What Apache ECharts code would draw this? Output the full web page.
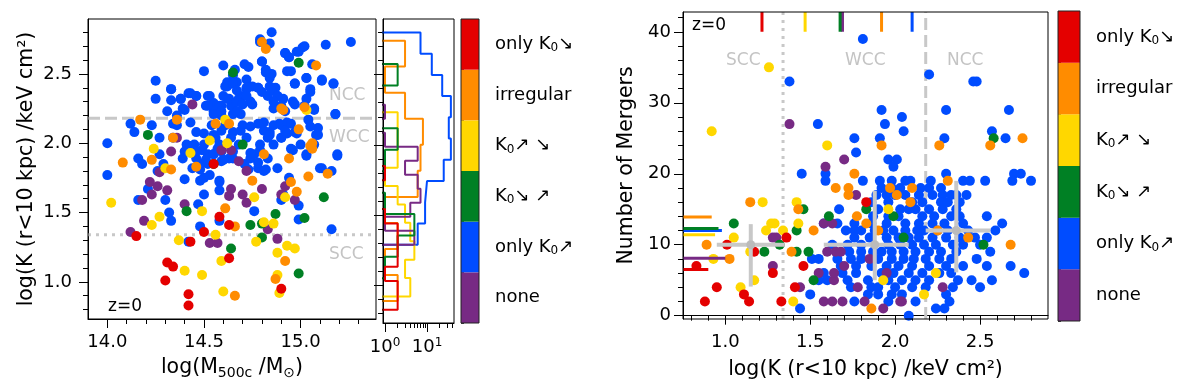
<!DOCTYPE html>
<html>
<head>
<meta charset="utf-8">
<script src="https://cdn.jsdelivr.net/npm/echarts@6/dist/echarts.min.js"></script>
<style>
  html, body { margin: 0; background: #fff; }
  #chart { width: 1200px; height: 385px; }
</style>
</head>
<body>
<div id="chart"></div>
<script>
// categories, bottom to top of the colour bar
const catLabels = ['none', 'only K₀↗', 'K₀↘ ↗', 'K₀↗ ↘', 'irregular', 'only K₀↘']
const catColors = ['#772a84', '#004cff', '#008024', '#ffd700', '#ff8c00', '#e40000']
const cbFill = [1, 1, 1, 1, 1, 1]

// left panel: [log M500c, log K]
const leftUp = [
  [14.00, 2.00], [14.00, 1.77], [14.12, 2.14], [14.14, 2.08], [14.16, 1.89], [14.16, 1.59], [14.18, 1.85], [14.21, 1.67],
  [14.23, 2.13], [14.25, 2.32], [14.25, 2.45], [14.27, 1.92], [14.27, 2.04], [14.29, 1.85], [14.30, 1.59], [14.31, 2.23],
  [14.32, 1.50], [14.33, 2.39], [14.33, 2.31], [14.33, 1.44], [14.34, 2.04], [14.36, 2.13], [14.38, 2.32], [14.39, 2.25],
  [14.40, 1.74], [14.40, 1.94], [14.41, 1.99], [14.42, 2.36], [14.43, 2.15], [14.44, 1.82], [14.45, 1.99], [14.46, 2.34],
  [14.46, 1.89], [14.48, 1.73], [14.48, 1.40], [14.50, 2.52], [14.50, 1.99], [14.50, 1.63], [14.51, 2.27], [14.52, 1.92],
  [14.53, 2.34], [14.53, 1.77], [14.54, 2.13], [14.55, 2.23], [14.56, 2.04], [14.57, 1.96], [14.58, 1.72], [14.58, 1.66],
  [14.59, 2.27], [14.59, 1.87], [14.60, 2.56], [14.61, 2.41], [14.61, 2.13], [14.62, 2.32], [14.63, 1.89], [14.64, 2.27],
  [14.65, 2.08], [14.65, 2.49], [14.66, 2.53], [14.67, 2.44], [14.68, 2.32], [14.69, 2.21], [14.70, 2.13], [14.71, 2.57],
  [14.72, 2.39], [14.72, 2.04], [14.73, 2.55], [14.74, 1.89], [14.74, 2.30], [14.76, 1.51], [14.78, 2.40], [14.79, 2.73],
  [14.79, 1.99], [14.80, 2.59], [14.81, 2.15], [14.82, 2.53], [14.83, 1.89], [14.83, 2.34], [14.84, 2.08], [14.84, 2.72],
  [14.85, 2.80], [14.85, 2.50], [14.86, 2.25], [14.86, 1.99], [14.87, 2.40], [14.88, 2.34], [14.89, 2.14], [14.90, 2.04],
  [14.91, 1.63], [14.91, 2.32], [14.92, 2.23], [14.92, 2.65], [14.93, 2.07], [14.93, 2.52], [14.94, 2.62], [14.94, 1.75],
  [14.95, 1.96], [14.96, 2.30], [14.97, 2.43], [14.97, 2.08], [14.98, 2.66], [14.99, 1.45], [14.99, 1.55], [15.00, 1.99],
  [15.01, 2.69], [15.02, 2.27], [15.03, 2.47], [15.03, 1.92], [15.04, 2.17], [15.05, 2.39], [15.06, 2.57], [15.07, 2.25],
  [15.08, 2.06], [15.09, 2.11], [15.11, 1.82], [15.11, 2.46], [15.13, 2.71], [15.16, 1.38], [15.17, 2.43], [15.18, 2.21],
  [15.19, 1.91], [15.26, 2.73], [14.46, 2.08], [14.49, 1.95], [14.52, 1.85], [14.55, 1.92], [14.58, 1.99], [14.64, 2.04],
  [14.65, 1.94], [14.68, 1.99], [14.71, 1.85], [14.76, 1.92], [14.78, 1.82], [14.81, 1.80], [14.83, 2.04], [14.86, 2.13],
  [14.90, 2.13], [14.93, 2.15], [14.65, 2.27], [14.69, 2.34], [14.72, 2.46], [14.75, 2.41], [14.55, 2.29], [14.59, 2.20],
  [14.62, 2.44], [14.47, 1.56], [14.50, 1.75], [14.39, 1.89], [14.26, 1.80], [14.48, 1.85], [14.42, 1.29], [14.58, 1.44],
  [14.88, 1.82], [14.90, 1.59],
  [14.62, 2.41], [14.65, 2.43], [14.67, 2.38], [14.72, 2.40], [14.72, 2.34], [14.60, 2.34], [14.63, 2.32], [14.67, 2.30],
  [14.70, 2.28], [14.75, 2.28], [14.78, 2.40], [14.80, 2.37], [14.84, 2.41], [14.85, 2.38], [14.88, 2.34], [14.86, 2.30],
  [14.90, 2.27], [14.82, 2.51], [14.84, 2.47], [14.80, 2.59], [14.92, 2.65], [14.94, 2.62], [14.99, 2.66], [15.02, 2.70],
  [14.95, 2.52], [15.03, 2.47], [14.97, 2.43], [15.05, 2.37], [15.03, 2.32], [15.07, 2.24], [14.97, 2.28], [15.11, 2.45],
  [15.17, 2.43], [15.18, 2.21], [14.79, 2.75], [14.33, 2.39], [14.38, 2.32], [14.43, 2.36], [14.46, 2.34], [14.52, 2.34],
  [14.52, 2.27], [14.58, 2.27], [14.55, 2.21], [14.59, 2.23], [14.65, 2.21], [14.67, 2.23], [14.40, 2.24], [14.36, 2.20],
  [14.34, 2.14], [14.50, 2.07], [14.55, 2.06], [14.59, 2.09], [14.69, 2.09], [14.74, 2.12], [14.78, 2.14], [14.81, 2.09],
  [14.84, 2.06], [14.90, 2.04], [14.92, 2.09], [14.95, 2.14], [14.98, 2.07], [15.05, 2.12], [15.09, 2.06], [15.07, 1.99],
  [15.03, 1.91], [14.96, 1.95], [15.19, 1.92], [15.10, 1.82], [15.16, 1.80], [14.74, 1.93], [14.79, 1.95], [14.78, 1.86],
  [14.82, 1.81], [14.73, 1.81], [14.59, 1.94], [14.60, 1.88], [14.65, 1.89], [14.55, 1.92], [14.51, 1.88], [14.46, 1.94],
  [14.43, 1.98], [14.48, 1.81], [14.58, 1.73]
]
const leftNone = [
  [14.12, 1.36], [14.18, 1.59], [14.19, 1.44], [14.22, 1.72], [14.23, 1.63], [14.26, 1.69], [14.27, 1.79], [14.31, 1.66],
  [14.33, 1.94], [14.36, 2.04], [14.40, 1.56], [14.44, 2.28], [14.53, 1.28], [14.57, 1.28], [14.59, 1.95], [14.64, 1.95],
  [14.64, 1.67], [14.63, 1.62], [14.68, 1.87], [14.70, 1.63], [14.72, 1.57], [14.80, 1.67], [14.83, 1.38], [14.88, 1.31],
  [14.90, 1.63], [14.92, 1.69], [14.97, 1.59], [14.72, 1.80]
]
const leftDownUp = [
  [14.21, 2.06], [14.41, 1.51], [14.65, 2.51], [14.55, 1.85], [14.70, 1.99], [14.74, 1.41], [14.80, 1.42], [14.80, 1.32],
  [14.87, 1.49], [14.99, 2.58], [15.02, 1.46], [15.12, 1.61], [14.64, 1.24], [14.99, 1.06]
]
const leftUpDown = [
  [14.02, 1.57], [14.23, 1.41], [14.27, 1.47], [14.24, 1.96], [14.30, 1.82], [14.37, 1.30], [14.40, 1.08], [14.43, 1.93],
  [14.49, 1.05], [14.49, 1.51], [14.53, 2.02], [14.56, 1.34], [14.59, 1.15], [14.60, 0.93], [14.62, 2.00], [14.61, 2.17],
  [14.76, 1.61], [14.77, 1.29], [14.81, 1.43], [14.86, 1.42], [14.88, 1.21], [14.89, 0.92], [14.93, 1.26], [14.97, 1.24],
  [14.92, 1.61], [15.03, 2.24], [14.88, 1.05]
]
const leftIrregular = [
  [14.08, 1.86], [14.17, 2.17], [14.23, 1.88], [14.33, 1.81], [14.36, 2.17], [14.46, 1.83], [14.56, 2.14], [14.61, 1.53],
  [14.63, 2.14], [14.66, 1.40], [14.66, 0.90], [14.75, 1.73], [14.81, 1.92], [14.80, 2.73], [14.82, 2.68], [14.91, 2.24],
  [14.94, 1.89], [14.95, 1.72], [14.98, 1.65], [14.99, 2.10], [15.02, 2.26], [15.04, 1.76], [15.06, 2.00], [15.08, 2.56],
  [15.14, 1.78], [14.92, 1.15], [14.87, 1.02], [14.34, 2.04], [15.05, 1.98], [14.90, 2.25], [15.06, 1.96]
]
const leftDown = [
  [14.15, 1.33], [14.31, 1.14], [14.34, 1.11], [14.30, 1.01], [14.42, 0.91], [14.42, 0.83], [14.43, 1.29], [14.50, 1.36],
  [14.58, 1.47], [14.63, 1.17], [14.63, 1.41], [14.90, 0.95], [14.55, 1.85]
]

// histograms of log K per category: bin edges and counts
const histNoneEdges = [1.289, 1.389, 1.488, 1.588, 1.688, 1.787, 1.887, 1.986, 2.086, 2.186, 2.285]
const histNoneCounts = [5, 1, 4, 7, 6, 3, 6, 1, 0, 1]
const histUpEdges = [1.289, 1.44, 1.591, 1.743, 1.894, 2.045, 2.196, 2.347, 2.498, 2.649, 2.80]
const histUpCounts = [6, 9, 10, 25, 37, 33, 37, 23, 13, 7]
const histDownUpEdges = [1.05, 1.203, 1.355, 1.508, 1.66, 1.813, 1.965, 2.118, 2.27, 2.423, 2.575]
const histDownUpCounts = [1, 2, 5, 1, 0, 1, 2, 0, 0, 2]
const histUpDownEdges = [0.921, 1.052, 1.183, 1.314, 1.445, 1.576, 1.707, 1.838, 1.969, 2.10, 2.232]
const histUpDownCounts = [4, 3, 5, 4, 3, 2, 1, 2, 2, 2]
const histIrregularEdges = [0.888, 1.073, 1.258, 1.444, 1.629, 1.815, 2.0, 2.186, 2.371, 2.557, 2.742]
const histIrregularCounts = [2, 1, 2, 1, 6, 7, 8, 3, 1, 3]
const histDownEdges = [0.826, 0.928, 1.031, 1.133, 1.236, 1.338, 1.44, 1.543, 1.645, 1.748, 1.85]
const histDownCounts = [2, 2, 1, 2, 2, 2, 1, 0, 0, 1]

// right panel: [log K, number of mergers]
const rightUp = [
  [1.378, 33], [1.81, 39], [2.20, 34], [2.46, 33], [2.48, 33], [1.545, 27], [1.92, 29], [1.94, 27], [2.04, 28], [2.05, 26],
  [1.76, 25], [1.91, 25], [1.77, 23], [2.30, 29], [2.67, 29], [2.29, 25], [2.57, 26], [2.65, 25], [1.45, 20], [1.59, 20],
  [1.59, 19], [1.81, 19], [1.96, 22], [2.01, 22], [1.99, 21], [1.91, 19], [1.98, 19], [2.06, 19], [2.09, 19], [2.21, 19],
  [2.30, 20], [2.40, 19], [2.44, 19], [2.53, 19], [2.70, 20], [2.74, 20], [2.69, 19], [2.80, 19],
  [1.92, 18], [1.98, 18], [2.03, 18], [2.15, 18], [2.20, 18], [2.27, 18],
  [1.89, 17], [1.95, 17], [2.00, 17], [2.06, 17], [2.14, 17], [2.22, 17], [2.28, 17], [2.33, 17], [2.36, 17], [2.42, 17],
  [1.86, 16], [1.96, 16], [2.10, 16], [2.16, 16], [2.27, 16], [2.31, 16], [2.38, 16],
  [1.67, 15], [1.90, 15], [2.03, 15], [2.08, 15], [2.12, 15], [2.20, 15], [2.28, 15], [2.36, 15],
  [1.87, 14], [1.96, 14], [2.02, 14], [2.16, 14], [2.23, 14], [2.33, 14], [2.38, 14], [2.54, 14],
  [1.58, 13], [1.66, 13], [1.76, 13], [1.86, 13], [1.95, 13], [2.06, 13], [2.14, 13], [2.22, 13], [2.29, 13], [2.40, 13], [2.63, 13],
  [1.71, 12], [1.76, 12], [1.80, 12], [1.88, 12], [1.93, 12], [1.99, 12], [2.06, 12], [2.13, 12], [2.17, 12], [2.25, 12],
  [2.31, 12], [2.43, 12], [2.59, 12],
  [1.76, 11], [1.85, 11], [1.95, 11], [2.02, 11], [2.08, 11], [2.14, 11], [2.22, 11], [2.30, 11], [2.38, 11], [2.47, 11], [2.54, 11],
  [1.63, 10], [1.72, 10], [1.80, 10], [1.96, 10], [2.03, 10], [2.10, 10], [2.17, 10], [2.24, 10], [2.34, 10], [2.40, 10], [2.50, 10],
  [1.73, 9], [1.80, 9], [1.87, 9], [1.92, 9], [1.98, 9], [2.05, 9], [2.12, 9], [2.20, 9], [2.27, 9], [2.36, 9], [2.56, 9],
  [1.51, 8], [1.55, 8], [1.66, 8], [1.74, 8], [1.80, 8], [1.90, 8], [1.98, 8], [2.05, 8], [2.11, 8], [2.18, 8], [2.26, 8],
  [2.33, 8], [2.48, 8],
  [1.68, 7], [1.77, 7], [1.86, 7], [1.95, 7], [2.02, 7], [2.10, 7], [2.20, 7], [2.30, 7], [2.40, 7], [2.54, 7], [2.68, 7],
  [1.58, 6], [1.69, 6], [1.77, 6], [1.92, 6], [1.99, 6], [2.08, 6], [2.16, 6], [2.26, 6], [2.33, 6], [2.76, 6],
  [1.55, 5], [1.60, 5], [1.72, 5], [1.84, 5], [1.96, 5], [2.04, 5], [2.12, 5], [2.20, 5], [2.37, 5], [2.45, 5], [2.57, 5],
  [1.74, 4], [1.86, 4], [1.90, 4], [2.00, 4], [2.10, 4], [2.18, 4], [2.34, 4], [2.50, 4],
  [1.50, 3], [1.84, 3], [1.90, 3], [1.98, 3], [2.04, 3], [2.30, 3],
  [1.76, 2], [1.96, 2], [2.12, 2], [2.32, 2], [1.44, 1], [2.24, 1], [2.29, 1], [2.08, 0]
]
const rightNone = [
  [1.378, 27], [1.59, 21], [1.70, 22], [1.77, 17], [1.58, 13], [1.63, 13], [1.28, 11], [1.30, 11], [1.28, 7], [1.44, 4],
  [1.55, 6], [1.64, 5], [1.58, 2], [1.63, 2], [1.69, 2], [1.78, 4], [1.82, 2], [1.93, 1], [1.70, 7], [1.64, 6],
  [1.60, 9], [1.65, 9], [1.68, 9], [1.85, 8], [1.95, 6], [2.04, 2], [2.28, 4], [2.03, 2]
]
const rightDownUp = [
  [2.58, 25], [1.46, 15], [1.83, 15], [1.61, 14], [1.99, 14], [1.42, 12], [1.05, 13], [1.23, 9], [1.32, 10], [1.42, 9],
  [1.49, 9], [1.52, 5], [2.05, 11], [2.52, 10]
]
const rightUpDown = [
  [1.257, 35], [0.92, 26], [1.60, 24], [1.22, 16], [1.42, 16], [1.96, 15], [1.29, 13], [1.43, 13], [1.27, 13], [1.24, 12],
  [1.34, 12], [1.05, 11], [1.147, 9], [0.93, 8], [1.17, 5], [1.09, 4], [1.40, 2], [1.93, 5], [2.17, 3], [2.24, 6]
]
const rightIrregular = [
  [1.92, 24], [2.26, 24], [2.56, 24], [2.75, 25], [1.76, 20], [2.31, 19], [1.65, 18], [1.725, 18], [1.725, 17], [1.97, 18],
  [2.01, 17], [2.10, 18], [2.09, 16], [1.147, 16], [1.43, 15], [1.775, 14], [1.83, 13], [1.52, 12], [1.90, 12], [2.25, 12],
  [2.43, 11], [0.89, 10], [2.68, 10], [1.39, 9], [1.025, 8], [1.86, 1]
]
const rightDown = [
  [1.83, 16], [1.36, 11], [1.01, 10], [1.17, 9], [1.46, 7], [1.28, 6], [0.83, 7], [0.95, 4], [1.11, 3], [1.14, 2],
  [0.88, 2], [1.33, 2], [1.41, 4]
]

// medians per category (same order as catLabels)
const medianK = [1.69, 2.10, 1.676, 1.47, 1.92, 1.216]
const medianN = [8.1, 12.0, 12.3, 11.4, 13.9, 6.5]
const medianNEnd = [1.0, 0.98, 0.96, 0.94, 0.92, 0.90]

// grey crosses: centre, K range, N range
const crossK = [1.15, 1.88, 2.36]
const crossN = [10, 10, 12]
const crossKlo = [0.95, 1.58, 2.18]
const crossKhi = [1.35, 2.08, 2.56]
const crossNlo = [4.1, 5.0, 6.1]
const crossNhi = [12.9, 17.6, 19.0]

const sccLimit = 1.34
const nccLimit = 2.18

const massMin = 13.9, massMax = 15.39
const kMinL = 0.732, kMaxL = 2.896
const kMinR = 0.751, kMaxR = 2.9
const nMin = -0.47, nMax = 42.8
const histMin = 0.896, histMax = 43.9
const histFloor = 0.5

const font = 'DejaVu Sans'
const grey = '#c8c8c8'

const leftSets = [leftUp, leftNone, leftDownUp, leftUpDown, leftIrregular, leftDown]
const rightSets = [rightUp, rightNone, rightDownUp, rightUpDown, rightIrregular, rightDown]
const setCat = [1, 0, 2, 3, 4, 5]
const histSets = [
  [histUpEdges, histUpCounts, 1], [histIrregularEdges, histIrregularCounts, 4], [histUpDownEdges, histUpDownCounts, 3],
  [histNoneEdges, histNoneCounts, 0], [histDownUpEdges, histDownUpCounts, 2], [histDownEdges, histDownCounts, 5]
]

function stepPath(edges, counts) {
  const pts = [[histFloor, edges[0]]]
  counts.forEach((c, i) => {
    const v = c > 0 ? c : histFloor
    pts.push([v, edges[i]], [v, edges[i + 1]])
  })
  pts.push([histFloor, edges[edges.length - 1]])
  return pts
}

const tickText = { fontFamily: font, fontSize: 18, color: '#000' }
const nameText = { fontFamily: font, fontSize: 20.5, color: '#000' }
const subRich = { sub: { fontFamily: font, fontSize: 12, padding: [8, 0, 0, 0] } }
const supRich = { sup: { fontFamily: font, fontSize: 12, padding: [0, 0, 9, 0] } }
const blackLine = { show: true, lineStyle: { color: '#000', width: 1 } }

function valueAxis(gridIndex, min, max, split, major, fmt, extra) {
  return Object.assign({
    type: 'value', gridIndex, min, max, splitNumber: split,
    axisLine: blackLine,
    axisTick: { show: true, length: 9, customValues: major, lineStyle: { color: '#000' } },
    minorTick: { show: true, splitNumber: 5, length: 5, lineStyle: { color: '#000' } },
    axisLabel: Object.assign({ customValues: major, formatter: fmt }, tickText),
    splitLine: { show: false }
  }, extra || {})
}

const series = []

// left scatter
leftSets.forEach((d, i) => {
  series.push({
    type: 'scatter', xAxisIndex: 0, yAxisIndex: 0, data: d, symbolSize: 10,
    itemStyle: { color: catColors[setCat[i]], opacity: 1 }, z: 3
  })
})
series.push({
  type: 'line', xAxisIndex: 0, yAxisIndex: 0, data: [[massMin, nccLimit], [massMax, nccLimit]],
  showSymbol: false, lineStyle: { color: grey, width: 3, type: [12, 5] }, z: 1
})
series.push({
  type: 'line', xAxisIndex: 0, yAxisIndex: 0, data: [[massMin, sccLimit], [massMax, sccLimit]],
  showSymbol: false, lineStyle: { color: grey, width: 3, type: [3, 5] }, z: 1
})

// histograms
histSets.forEach(h => {
  series.push({
    type: 'line', xAxisIndex: 1, yAxisIndex: 1, data: stepPath(h[0], h[1]),
    showSymbol: false, clip: true, lineStyle: { color: catColors[h[2]], width: 2 }
  })
})

// right scatter
rightSets.forEach((d, i) => {
  series.push({
    type: 'scatter', xAxisIndex: 2, yAxisIndex: 2, data: d, symbolSize: 10,
    itemStyle: { color: catColors[setCat[i]], opacity: 1 }, z: 3
  })
})
series.push({
  type: 'line', xAxisIndex: 2, yAxisIndex: 2, data: [[sccLimit, nMin], [sccLimit, nMax]],
  showSymbol: false, lineStyle: { color: grey, width: 3, type: [3, 5] }, z: 1
})
series.push({
  type: 'line', xAxisIndex: 2, yAxisIndex: 2, data: [[nccLimit, nMin], [nccLimit, nMax]],
  showSymbol: false, lineStyle: { color: grey, width: 3, type: [12, 5] }, z: 1
})
catColors.forEach((c, i) => {
  series.push({
    type: 'line', xAxisIndex: 2, yAxisIndex: 2, data: [[kMinR, medianN[i]], [medianNEnd[i], medianN[i]]],
    showSymbol: false, lineStyle: { color: c, width: 3 }, z: 4
  })
  series.push({
    type: 'line', xAxisIndex: 2, yAxisIndex: 2, data: [[medianK[i], 40], [medianK[i], nMax]],
    showSymbol: false, lineStyle: { color: c, width: 3 }, z: 4
  })
})
series.push({
  type: 'custom', xAxisIndex: 2, yAxisIndex: 2, z: 5,
  data: crossK.map((k, i) => [k, crossN[i], crossKlo[i], crossKhi[i], crossNlo[i], crossNhi[i]]),
  encode: { x: 0, y: 1 },
  renderItem: (params, api) => {
    const c = api.coord([api.value(0), api.value(1)])
    const l = api.coord([api.value(2), api.value(1)])
    const r = api.coord([api.value(3), api.value(1)])
    const b = api.coord([api.value(0), api.value(4)])
    const t = api.coord([api.value(0), api.value(5)])
    const st = { stroke: grey, lineWidth: 4 }
    return {
      type: 'group', children: [
        { type: 'line', shape: { x1: l[0], y1: l[1], x2: r[0], y2: r[1] }, style: st },
        { type: 'line', shape: { x1: b[0], y1: b[1], x2: t[0], y2: t[1] }, style: st },
        { type: 'circle', shape: { cx: c[0], cy: c[1], r: 4.5 }, style: { fill: '#bbbbbb' } }
      ]
    }
  }
})

// colour bars
;[3, 4].forEach(g => {
  series.push({
    type: 'bar', xAxisIndex: g, yAxisIndex: g, barWidth: '100%',
    data: cbFill.map((v, i) => ({ value: v, itemStyle: { color: catColors[i] } }))
  })
})

const cbLabel = v => v.replace('₀', '{sub|0}')
const cbAxis = gridIndex => ({
  type: 'category', gridIndex, position: 'right', data: catLabels,
  axisLine: { show: false },
  axisTick: { show: true, alignWithLabel: true, length: 8, lineStyle: { color: '#222' } },
  axisLabel: Object.assign({ margin: 16, formatter: cbLabel, rich: subRich }, tickText)
})
const cbEdgeAxis = gridIndex => ({
  type: 'category', gridIndex, position: 'right', data: catLabels,
  axisLine: { show: false },
  axisTick: { show: true, length: 3, lineStyle: { color: '#444' } },
  axisLabel: { show: false }
})

const chart = echarts.init(document.getElementById('chart'), null, { renderer: 'canvas' })
chart.setOption({
  animation: false,
  backgroundColor: '#fff',
  grid: [
    { left: 88, top: 19, width: 288, height: 304, show: true, borderColor: '#000', borderWidth: 1, z: 10 },
    { left: 383, top: 19, width: 71, height: 304, show: true, borderColor: '#000', borderWidth: 1, z: 10 },
    { left: 683, top: 12, width: 365, height: 308, show: true, borderColor: '#000', borderWidth: 1, z: 10 },
    { left: 461, top: 19, width: 18, height: 304, show: true, borderColor: '#222', borderWidth: 1, z: 10 },
    { left: 1058, top: 11, width: 22, height: 310, show: true, borderColor: '#222', borderWidth: 1, z: 10 },
    { left: 383, top: 19, width: 71, height: 304 },
    { left: 461, top: 19, width: 18, height: 304 },
    { left: 1058, top: 11, width: 22, height: 310 }
  ],
  xAxis: [
    valueAxis(0, massMin, massMax, 3, [14, 14.5, 15], v => v.toFixed(1), {
      name: 'log(M{sub|500c} /M{sub|⊙})', nameLocation: 'middle', nameGap: 37,
      nameTextStyle: Object.assign({ rich: { sub: { fontFamily: font, fontSize: 14, padding: [10, 0, 0, 0] } } }, nameText),
      axisLabel: Object.assign({ customValues: [14, 14.5, 15], formatter: v => v.toFixed(1), margin: 14 }, tickText)
    }),
    {
      type: 'log', gridIndex: 1, min: histMin, max: histMax, logBase: 10,
      axisLine: blackLine,
      axisTick: { show: true, length: 9, customValues: [1, 10], lineStyle: { color: '#000' } },
      axisLabel: Object.assign({ customValues: [1, 10], margin: 14, formatter: v => v < 5 ? '10{sup|0}' : '10{sup|1}', rich: supRich }, tickText),
      splitLine: { show: false }
    },
    valueAxis(2, kMinR, kMaxR, 4, [1, 1.5, 2, 2.5], v => v.toFixed(1), {
      name: 'log(K (r<10 kpc) /keV cm²)', nameLocation: 'middle', nameGap: 40, nameTextStyle: nameText,
      axisLabel: Object.assign({ customValues: [1, 1.5, 2, 2.5], formatter: v => v.toFixed(1), margin: 14 }, tickText)
    }),
    { type: 'value', gridIndex: 3, min: 0, max: 1, show: false },
    { type: 'value', gridIndex: 4, min: 0, max: 1, show: false },
    {
      type: 'log', gridIndex: 5, min: histMin, max: histMax, logBase: 10,
      axisLine: { show: false },
      axisTick: { show: true, length: 5, customValues: [2, 3, 4, 5, 6, 7, 8, 9, 20, 30, 40], lineStyle: { color: '#000' } },
      axisLabel: { show: false }, splitLine: { show: false }
    },
    { type: 'value', gridIndex: 6, min: 0, max: 1, show: false },
    { type: 'value', gridIndex: 7, min: 0, max: 1, show: false }
  ],
  yAxis: [
    valueAxis(0, kMinL, kMaxL, 4, [1, 1.5, 2, 2.5], v => v.toFixed(1), {
      name: 'log(K (r<10 kpc) /keV cm²)', nameLocation: 'middle', nameGap: 51, nameTextStyle: nameText,
      axisLabel: Object.assign({ customValues: [1, 1.5, 2, 2.5], formatter: v => v.toFixed(1), margin: 16 }, tickText)
    }),
    valueAxis(1, kMinL, kMaxL, 4, [1, 1.5, 2, 2.5], v => v.toFixed(1), {
      axisLabel: { show: false }
    }),
    valueAxis(2, nMin, nMax, 4, [0, 10, 20, 30, 40], v => String(v), {
      name: 'Number of Mergers', nameLocation: 'middle', nameGap: 46, nameTextStyle: nameText,
      axisLabel: Object.assign({ customValues: [0, 10, 20, 30, 40], formatter: v => String(v), margin: 12 }, tickText)
    }),
    cbAxis(3),
    cbAxis(4),
    { type: 'value', gridIndex: 5, min: kMinL, max: kMaxL, show: false },
    cbEdgeAxis(6),
    cbEdgeAxis(7)
  ],
  graphic: [
    { type: 'text', left: 108, top: 298, style: { text: 'z=0', font: '17px "DejaVu Sans"', fill: '#000' } },
    { type: 'text', left: 329, top: 87, style: { text: 'NCC', font: '17px "DejaVu Sans"', fill: '#c4c4c4' } },
    { type: 'text', left: 329, top: 129, style: { text: 'WCC', font: '17px "DejaVu Sans"', fill: '#c4c4c4' } },
    { type: 'text', left: 329, top: 246, style: { text: 'SCC', font: '17px "DejaVu Sans"', fill: '#c4c4c4' } },
    { type: 'text', left: 692, top: 17, style: { text: 'z=0', font: '17px "DejaVu Sans"', fill: '#000' } },
    { type: 'text', left: 726, top: 52, style: { text: 'SCC', font: '17px "DejaVu Sans"', fill: '#c4c4c4' } },
    { type: 'text', left: 845, top: 52, style: { text: 'WCC', font: '17px "DejaVu Sans"', fill: '#c4c4c4' } },
    { type: 'text', left: 947, top: 52, style: { text: 'NCC', font: '17px "DejaVu Sans"', fill: '#c4c4c4' } }
  ],
  series
})
</script>
</body>
</html>
